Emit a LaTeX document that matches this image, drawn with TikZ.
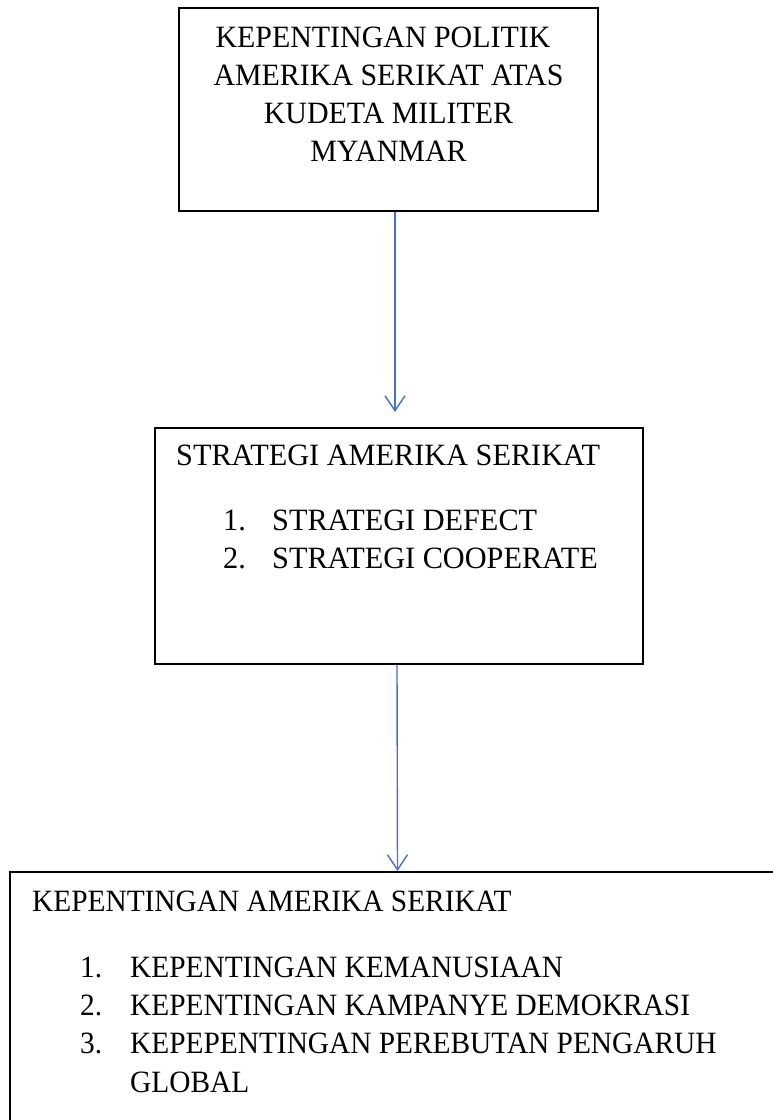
\documentclass[tikz,border=0pt]{standalone}
\usepackage{fontspec}
\setmainfont{Liberation Serif}
\usetikzlibrary{arrows.meta}
\definecolor{arrowblue}{RGB}{68,114,196}
\tikzset{
  box/.style={draw=black, line width=2pt, rectangle, inner sep=0pt},
  txt/.style={font=\fontsize{31}{38}\selectfont, inner sep=0pt, anchor=base},
  txtw/.style={txt, anchor=base west},
  link/.style={draw=arrowblue, line width=1.4pt, -{Straight Barb[length=15pt,width=20pt,line width=1.4pt]}}
}
\begin{document}
\begin{tikzpicture}[x=1pt,y=-1pt]
\useasboundingbox (0,0) rectangle (773,1120);
\clip (0,0) rectangle (773,1120);
% boxes
\node[box, minimum width=419pt, minimum height=203pt] (b1) at (388.5,109.5) {};
\node[box, minimum width=488pt, minimum height=236pt] (b2) at (399,546) {};
\node[box, minimum width=775pt, minimum height=268pt] (b3) at (397.5,1006) {};
% box 1 text
\begin{scope}[every node/.append style={xscale=0.965}]
\node[txt] (t1a) at (383,47) {KEPENTINGAN POLITIK};
\node[txt] (t1b) at (388.5,85) {AMERIKA SERIKAT ATAS};
\node[txt] (t1c) at (388.5,123) {KUDETA MILITER};
\node[txt] (t1d) at (388.5,161) {MYANMAR};
\end{scope}
% box 2 text
\begin{scope}[every node/.append style={xscale=0.977}]
\node[txtw] (t2a) at (176,465) {STRATEGI AMERIKA SERIKAT};
\node[txtw] (n2a) at (223,530) {1.};
\node[txtw] (t2b) at (272,530) {STRATEGI DEFECT};
\node[txtw] (n2b) at (223,568) {2.};
\node[txtw] (t2c) at (272,568) {STRATEGI COOPERATE};
\end{scope}
% box 3 text
\begin{scope}[every node/.append style={xscale=0.947}]
\node[txtw] (t3a) at (32,911) {KEPENTINGAN AMERIKA SERIKAT};
\node[txtw] (n3a) at (80,977) {1.};
\node[txtw] (t3b) at (130,977) {KEPENTINGAN KEMANUSIAAN};
\node[txtw] (n3b) at (80,1015) {2.};
\node[txtw] (t3c) at (130,1015) {KEPENTINGAN KAMPANYE DEMOKRASI};
\node[txtw] (n3c) at (80,1053) {3.};
\node[txtw] (t3d) at (130,1053) {KEPEPENTINGAN PEREBUTAN PENGARUH};
\node[txtw] (t3e) at (130,1092) {GLOBAL};
\end{scope}
% connectors
\draw[link] ([xshift=6.5pt]b1.south) -- ([xshift=-4pt,yshift=15pt]b2.north);
\draw[link] ([xshift=-2pt]b2.south) -- (b3.north);
\end{tikzpicture}
\end{document}
